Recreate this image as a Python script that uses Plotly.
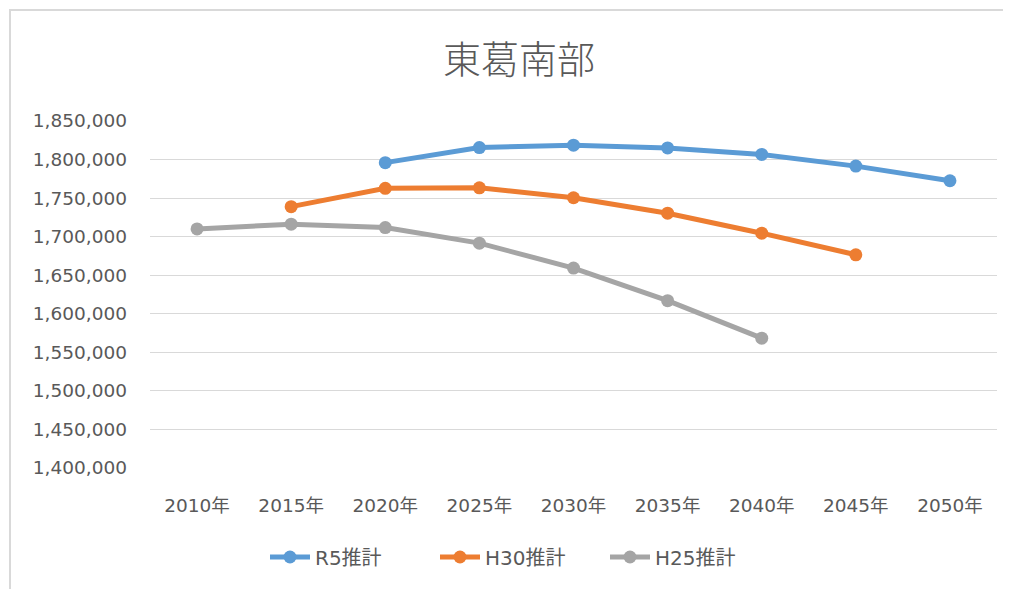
import plotly.graph_objects as go

categories = ["2010年", "2015年", "2020年", "2025年", "2030年", "2035年", "2040年", "2045年", "2050年"]
r5_values = [None, None, 1796000, 1815600, 1818600, 1815100, 1806600, 1791500, 1772500]
h30_values = [None, 1738900, 1762700, 1763400, 1750500, 1730400, 1704500, 1676500, None]
h25_values = [1710100, 1716150, 1711800, 1691600, 1659300, 1617000, 1568350, None, None]
series_names = ["R5推計", "H30推計", "H25推計"]
y_ticks = [1400000, 1450000, 1500000, 1550000, 1600000, 1650000, 1700000, 1750000, 1800000, 1850000]
title_text = "東葛南部"

colors = ["#5B9BD5", "#ED7D31", "#A5A5A5"]
FONT = "DejaVu Sans, Noto Sans CJK JP, sans-serif"

fig = go.Figure()
for name, vals, col in zip(series_names, [r5_values, h30_values, h25_values], colors):
    fig.add_trace(go.Scatter(
        x=categories, y=vals, name=name, mode="lines+markers",
        line=dict(color=col, width=5),
        marker=dict(color=col, size=13),
        connectgaps=False,
    ))

# page body has an 8px offset; work in shifted coordinates
OFF = 8
W, H = 1011 - OFF, 589 - OFF
L, T = 150 - OFF, 121 - OFF
R = 1011 - 997
B = H - (468 - OFF)
pw = W - L - R
ph = H - T - B

def px_x(x):
    return (x - OFF - L) / pw

def px_y(y):
    return (H - B - (y - OFF)) / ph

fig.update_layout(
    width=W, height=H,
    margin=dict(l=L, r=R, t=T, b=B),
    paper_bgcolor="white", plot_bgcolor="white",
    title=dict(text=title_text, x=(519 - OFF) / W, xanchor="center", y=1 - (60 - OFF) / H, yanchor="middle",
               font=dict(family="Noto Sans CJK JP", size=38, color="#595959", weight=300)),
    xaxis=dict(type="category", range=[-0.5, 8.5], showgrid=False, zeroline=False,
               showline=False, ticks="", ticklabelstandoff=24,
               tickfont=dict(family=FONT, size=18.5, color="#595959")),
    yaxis=dict(range=[1400000, 1850000], tickvals=y_ticks, tickformat=",d",
               showgrid=True, gridcolor="#D9D9D9", gridwidth=1, zeroline=False,
               showline=False, ticks="", ticklabelstandoff=22,
               tickfont=dict(family=FONT, size=18.5, color="#595959")),
    showlegend=True,
    legend=dict(orientation="h", x=px_x(520), xanchor="center",
                y=px_y(557), yanchor="middle",
                font=dict(family=FONT, size=20, color="#595959"),
                itemwidth=40, tracegroupgap=0, entrywidth=115, entrywidthmode="pixels"),
    shapes=[dict(type="rect", xref="paper", yref="paper",
                 x0=px_x(10), x1=px_x(1030),
                 y0=px_y(640), y1=px_y(10),
                 line=dict(color="#D9D9D9", width=2), fillcolor="rgba(0,0,0,0)", layer="below")],
)

fig.write_html("out.html")
